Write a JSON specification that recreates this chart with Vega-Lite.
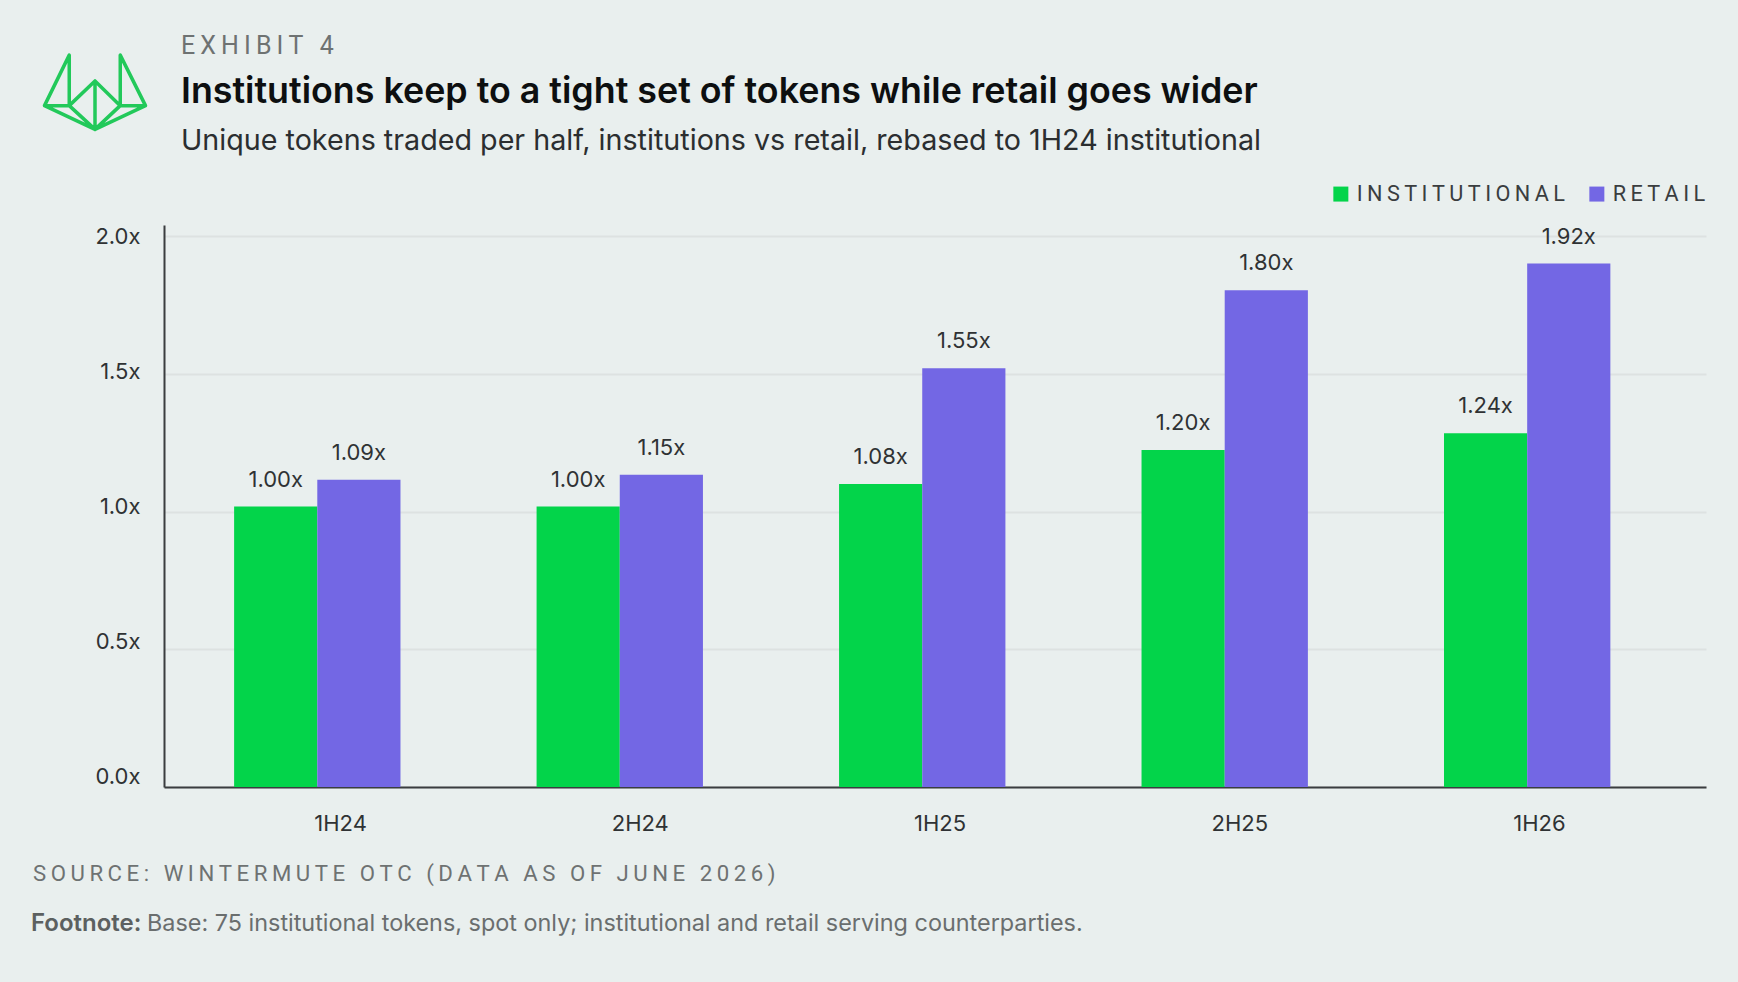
{
"$schema":"https://vega.github.io/schema/vega-lite/v6.json",
"width":1542,"height":562,
"autosize":{"type":"none"},
"padding":{"left":164,"top":225,"right":32,"bottom":195},
"background":"#e9efee",
"config":{"view":{"stroke":null},"font":"Inter"},
"layer":[
{"data":{"values":[
{"period":"1H24","series":"INSTITUTIONAL","value":1.018,"label":"1.00x"},
{"period":"1H24","series":"RETAIL","value":1.115,"label":"1.09x"},
{"period":"2H24","series":"INSTITUTIONAL","value":1.018,"label":"1.00x"},
{"period":"2H24","series":"RETAIL","value":1.133,"label":"1.15x"},
{"period":"1H25","series":"INSTITUTIONAL","value":1.10,"label":"1.08x"},
{"period":"1H25","series":"RETAIL","value":1.52,"label":"1.55x"},
{"period":"2H25","series":"INSTITUTIONAL","value":1.223,"label":"1.20x"},
{"period":"2H25","series":"RETAIL","value":1.803,"label":"1.80x"},
{"period":"1H26","series":"INSTITUTIONAL","value":1.284,"label":"1.24x"},
{"period":"1H26","series":"RETAIL","value":1.90,"label":"1.92x"}
]},
"encoding":{
"x":{"field":"period","type":"nominal","sort":null,"title":null,"scale":{"paddingInner":0.45,"paddingOuter":0.274,"align":0.423},"axis":{"labelAngle":0,"ticks":false,"domainColor":"#3a3d3f","domainWidth":2,"labelPadding":36,"labelFont":"Inter","labelFontSize":22,"labelColor":"#2f3234","labelBaseline":"middle","labelOffset":{"expr":"23.3-11*datum.index"}}},
"xOffset":{"field":"series","type":"nominal","sort":["INSTITUTIONAL","RETAIL"],"scale":{"paddingInner":0,"paddingOuter":0}},
"y":{"field":"value","type":"quantitative","title":null,"scale":{"domain":[0,2.04],"nice":false},"axis":{"values":[0,0.5,1,1.5,2],"labelExpr":"format(datum.value,'.1f')+'x'","ticks":false,"domainColor":"#3a3d3f","domainWidth":2,"gridColor":"#dde2e1","gridWidth":2,"labelPadding":24,"labelFont":"Inter","labelFontSize":22,"labelColor":"#2f3234","labelOffset":{"expr":"-11+5.5*datum.value"}}}
},
"layer":[
{"mark":{"type":"bar","cornerRadius":0},"encoding":{"color":{"field":"series","type":"nominal","sort":["INSTITUTIONAL","RETAIL"],"scale":{"domain":["INSTITUTIONAL","RETAIL"],"range":["#03d44a","#7367e4"]},"legend":{"orient":"none","legendX":1166,"legendY":-42,"direction":"horizontal","columns":2,"title":null,"symbolType":"square","symbolSize":225,"symbolStrokeWidth":0,"symbolOpacity":1,"labelFont":"Roboto","labelFontSize":21.7,"labelColor":"#3a3d3f","labelOffset":5,"labelLimit":400,"columnPadding":21,"labelExpr":"join(split(datum.label,''),'\u2009')"}}}},
{"mark":{"type":"text","dy":-27,"font":"Inter","fontSize":22,"fontWeight":400,"color":"#2f3234","baseline":"middle"},"encoding":{"text":{"field":"label"}}}
]},
{"data":{"values":[{"t":"E\u2009X\u2009H\u2009I\u2009B\u2009I\u2009T\u2009 \u20094"}]},"mark":{"type":"text","align":"left","baseline":"middle","font":"Roboto","fontSize":25,"color":"#6e7272"},"encoding":{"text":{"field":"t"},"x":{"value":17},"y":{"value":-179}}},
{"data":{"values":[{"t":"Institutions keep to a tight set of tokens while retail goes wider"}]},"mark":{"type":"text","align":"left","baseline":"middle","font":"Inter","fontSize":35.8,"fontWeight":600,"color":"#0d0f10"},"encoding":{"text":{"field":"t"},"x":{"value":17},"y":{"value":-133}}},
{"data":{"values":[{"t":"Unique tokens traded per half, institutions vs retail, rebased to 1H24 institutional"}]},"mark":{"type":"text","align":"left","baseline":"middle","font":"Inter","fontSize":28.7,"color":"#2b2e30"},"encoding":{"text":{"field":"t"},"x":{"value":17},"y":{"value":-84}}},
{"data":{"values":[{"t":"S\u2009O\u2009U\u2009R\u2009C\u2009E\u2009:\u2009 \u2009W\u2009I\u2009N\u2009T\u2009E\u2009R\u2009M\u2009U\u2009T\u2009E\u2009 \u2009O\u2009T\u2009C\u2009 \u2009(\u2009D\u2009A\u2009T\u2009A\u2009 \u2009A\u2009S\u2009 \u2009O\u2009F\u2009 \u2009J\u2009U\u2009N\u2009E\u2009 \u20092\u20090\u20092\u20096\u2009)"}]},"mark":{"type":"text","align":"left","baseline":"middle","font":"Roboto","fontSize":22.2,"color":"#6e7272"},"encoding":{"text":{"field":"t"},"x":{"value":-131},"y":{"value":649}}},
{"data":{"values":[{"t":"Footnote:"}]},"mark":{"type":"text","align":"left","baseline":"middle","font":"Inter","fontSize":24,"fontWeight":600,"color":"#5c6060"},"encoding":{"text":{"field":"t"},"x":{"value":-133},"y":{"value":699}}},
{"data":{"values":[{"t":"Base: 75 institutional tokens, spot only; institutional and retail serving counterparties."}]},"mark":{"type":"text","align":"left","baseline":"middle","font":"Inter","fontSize":23.4,"color":"#6a6e6e"},"encoding":{"text":{"field":"t"},"x":{"value":-17},"y":{"value":699}}},
{"data":{"values":[{"logo":"Wintermute"}]},"mark":{"type":"point","filled":false,"opacity":1,"stroke":"#22c95a","strokeWidth":3.5,"strokeJoin":"round","shape":"M-1,0.27L-0.51,-0.73L-0.51,0.27ZM1,0.27L0.5,-0.73L0.5,0.27ZM-0.51,0.27L0,-0.22L0.5,0.27L0,0.74ZM0,-0.22L0,0.74M-1,0.27L0,0.74L1,0.27","size":10200},"encoding":{"x":{"value":-69},"y":{"value":-133}}}
]
}
